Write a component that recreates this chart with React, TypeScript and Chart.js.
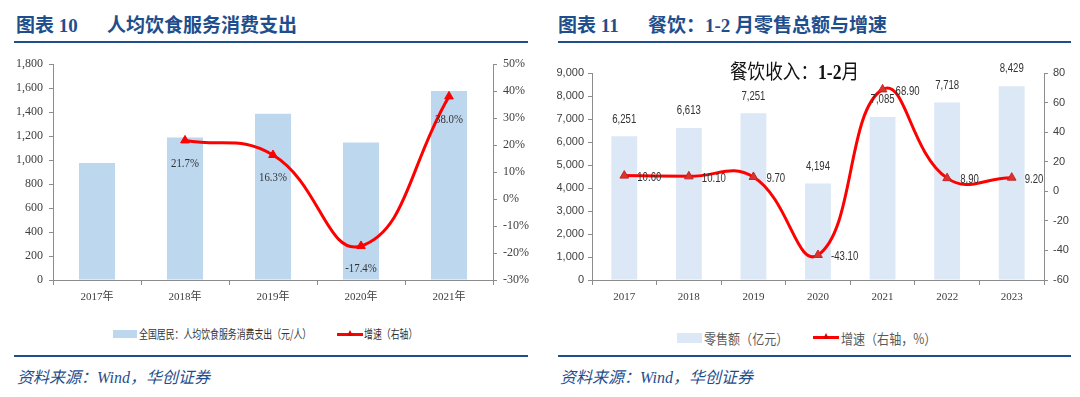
import React, { useEffect, useRef } from "react";
import { Chart, registerables } from "chart.js";

Chart.register(...registerables);

// ---------- data ----------
const leftCategories = ["2017年", "2018年", "2019年", "2020年", "2021年"];
const leftSpending = [975, 1188, 1385, 1145, 1576];
const leftGrowth: (number | null)[] = [null, 21.7, 16.3, -17.4, 38.0];

const rightCategories = ["2017", "2018", "2019", "2020", "2021", "2022", "2023"];
const rightSales = [6251, 6613, 7251, 4194, 7085, 7718, 8429];
const rightGrowth = [10.6, 10.1, 9.7, -43.1, 68.9, 8.9, 9.2];

const leftBarLabel = "全国居民：人均饮食服务消费支出（元/人）";
const leftLineLabel = "增速（右轴）";
const rightBarLabel = "零售额（亿元）";
const rightLineLabel = "增速（右轴，%）";

// ---------- styles ----------
const BLUE = "#1f4e8c";
const AXIS = "#8c8c8c";
const TICK_TEXT = "#404040";
const SERIF = '"Liberation Serif", "Noto Sans CJK SC", serif';
const NARROW = '"Liberation Sans Narrow", "Liberation Sans", sans-serif';
const CJK = '"Noto Sans CJK SC", "Liberation Sans", sans-serif';

type LabelSpec = {
  dataset: number;
  font: string;
  color: string;
  format: (v: number) => string;
  dx: number;
  dy: number;
  align: CanvasTextAlign;
  sx: number;
};

function makeLabelPlugin(specs: LabelSpec[]) {
  return {
    id: "valueLabels",
    afterDatasetsDraw(chart: any) {
      const ctx = chart.ctx as CanvasRenderingContext2D;
      for (const s of specs) {
        const meta = chart.getDatasetMeta(s.dataset);
        const data = chart.data.datasets[s.dataset].data;
        meta.data.forEach((el: any, j: number) => {
          const v = data[j];
          if (v == null) return;
          ctx.save();
          ctx.font = s.font;
          ctx.fillStyle = s.color;
          ctx.textAlign = s.align;
          ctx.textBaseline = "middle";
          ctx.translate(el.x + s.dx, el.y + s.dy);
          ctx.scale(s.sx, 1);
          ctx.fillText(s.format(v), 0, 0);
          ctx.restore();
        });
      }
    },
  };
}

function axisGrid(tickLength: number) {
  return {
    display: true,
    drawOnChartArea: false,
    drawTicks: true,
    tickLength,
    color: AXIS,
    lineWidth: 1,
  };
}

function LeftChart() {
  const ref = useRef<HTMLCanvasElement | null>(null);
  useEffect(() => {
    if (!ref.current) return;
    const chart = new Chart(ref.current, {
      type: "bar",
      data: {
        labels: leftCategories,
        datasets: [
          {
            type: "line",
            label: leftLineLabel,
            data: leftGrowth,
            yAxisID: "y1",
            borderColor: "#ff0000",
            backgroundColor: "#ff0000",
            borderWidth: 3,
            tension: 0.45,
            pointStyle: "triangle",
            pointRadius: 5,
            pointBorderWidth: 1,
            order: 0,
          } as any,
          {
            type: "bar",
            label: leftBarLabel,
            data: leftSpending,
            yAxisID: "y",
            backgroundColor: "#bdd7ee",
            barPercentage: 0.41,
            categoryPercentage: 1,
            order: 1,
          } as any,
        ],
      },
      options: {
        responsive: false,
        animation: false,
        layout: { padding: { top: 14, left: 0, right: 0, bottom: 0 } },
        plugins: { legend: { display: false }, tooltip: { enabled: false } },
        scales: {
          x: {
            grid: { ...axisGrid(5), offset: true },
            border: { display: true, color: AXIS },
            ticks: {
              color: TICK_TEXT,
              font: { family: SERIF, size: 11 },
              padding: 6,
              maxRotation: 0,
            },
            afterFit: (s: any) => {
              s.height = 30;
            },
          },
          y: {
            position: "left",
            min: 0,
            max: 1800,
            grid: axisGrid(4),
            border: { display: true, color: AXIS },
            ticks: {
              stepSize: 200,
              color: TICK_TEXT,
              font: { family: SERIF, size: 12 },
              padding: 6,
              callback: (v: any) => Number(v).toLocaleString("en-US"),
            },
            afterFit: (s: any) => {
              s.width = 53;
            },
          },
          y1: {
            position: "right",
            min: -30,
            max: 50,
            grid: axisGrid(4),
            border: { display: true, color: AXIS },
            ticks: {
              stepSize: 10,
              color: TICK_TEXT,
              font: { family: SERIF, size: 12 },
              padding: 6,
              callback: (v: any) => `${v}%`,
            },
            afterFit: (s: any) => {
              s.width = 47;
            },
          },
        },
      } as any,
      plugins: [
        makeLabelPlugin([
          {
            dataset: 0,
            font: `12px ${SERIF}`,
            color: "#333333",
            format: (v) => `${v.toFixed(1)}%`,
            dx: 0,
            dy: 23,
            align: "center",
            sx: 0.9,
          },
        ]),
      ],
    });
    return () => chart.destroy();
  }, []);
  return <canvas ref={ref} width={540} height={260} style={{ width: 540, height: 260, display: "block" }} />;
}

function RightChart() {
  const ref = useRef<HTMLCanvasElement | null>(null);
  useEffect(() => {
    if (!ref.current) return;
    const chart = new Chart(ref.current, {
      type: "bar",
      data: {
        labels: rightCategories,
        datasets: [
          {
            type: "line",
            label: rightLineLabel,
            data: rightGrowth,
            yAxisID: "y1",
            borderColor: "#ff0000",
            backgroundColor: "#e0302a",
            pointBorderColor: "#c0282a",
            borderWidth: 3,
            tension: 0.45,
            pointStyle: "triangle",
            pointRadius: 5,
            pointBorderWidth: 1,
            order: 0,
          } as any,
          {
            type: "bar",
            label: rightBarLabel,
            data: rightSales,
            yAxisID: "y",
            backgroundColor: "#dce8f5",
            barPercentage: 0.4,
            categoryPercentage: 1,
            order: 1,
          } as any,
        ],
      },
      options: {
        responsive: false,
        animation: false,
        layout: { padding: { top: 23, left: 0, right: 0, bottom: 0 } },
        plugins: { legend: { display: false }, tooltip: { enabled: false } },
        scales: {
          x: {
            grid: { ...axisGrid(5), offset: true },
            border: { display: true, color: AXIS },
            ticks: {
              color: TICK_TEXT,
              font: { family: SERIF, size: 11 },
              padding: 6,
              maxRotation: 0,
            },
            afterFit: (s: any) => {
              s.height = 30;
            },
          },
          y: {
            position: "left",
            min: 0,
            max: 9000,
            grid: axisGrid(4),
            border: { display: true, color: AXIS },
            ticks: {
              stepSize: 1000,
              color: TICK_TEXT,
              font: { family: NARROW, size: 11 },
              padding: 4,
              callback: (v: any) => Number(v).toLocaleString("en-US"),
            },
            afterFit: (s: any) => {
              s.width = 52;
            },
          },
          y1: {
            position: "right",
            min: -60,
            max: 80,
            grid: axisGrid(4),
            border: { display: true, color: AXIS },
            ticks: {
              stepSize: 20,
              color: TICK_TEXT,
              font: { family: NARROW, size: 11 },
              padding: 5,
              callback: (v: any) => `${v}`,
            },
            afterFit: (s: any) => {
              s.width = 36;
            },
          },
        },
      } as any,
      plugins: [
        makeLabelPlugin([
          {
            dataset: 1,
            font: `12px ${NARROW}`,
            color: "#333333",
            format: (v) => v.toLocaleString("en-US"),
            dx: 0,
            dy: -17,
            align: "center",
            sx: 0.8,
          },
          {
            dataset: 0,
            font: `12px ${NARROW}`,
            color: "#333333",
            format: (v) => v.toFixed(2),
            dx: 13,
            dy: 2,
            align: "left",
            sx: 0.8,
          },
        ]),
      ],
    });
    return () => chart.destroy();
  }, []);
  return <canvas ref={ref} width={540} height={260} style={{ width: 540, height: 260, display: "block" }} />;
}

function abs(left: number, top: number, extra: React.CSSProperties = {}): React.CSSProperties {
  return { position: "absolute", left, top, whiteSpace: "nowrap", ...extra };
}

function LineMarker({ left, top }: { left: number; top: number }) {
  return (
    <div style={abs(left, top, { width: 26, height: 10 })}>
      <div style={{ position: "absolute", left: 0, top: 4, width: 26, height: 3, background: "#ff0000" }} />
      <div
        style={{
          position: "absolute",
          left: 10,
          top: 1,
          width: 0,
          height: 0,
          borderLeft: "3px solid transparent",
          borderRight: "3px solid transparent",
          borderBottom: "6px solid #e00000",
        }}
      />
    </div>
  );
}

export default function App() {
  const titleStyle: React.CSSProperties = {
    fontFamily: SERIF,
    fontWeight: 700,
    fontSize: 19,
    lineHeight: "20px",
    color: BLUE,
  };
  const sourceStyle: React.CSSProperties = {
    fontFamily: SERIF,
    fontStyle: "italic",
    fontSize: 16,
    lineHeight: "18px",
    color: BLUE,
  };
  const squish = (sx: number): React.CSSProperties => ({
    transform: `scaleX(${sx})`,
    transformOrigin: "left center",
  });
  return (
    <div
      style={{
        position: "absolute",
        left: 0,
        top: 0,
        width: 1080,
        height: 397,
        background: "#ffffff",
        overflow: "hidden",
      }}
    >
      {/* titles */}
      <div style={abs(16, 16, titleStyle)}>图表 10</div>
      <div style={abs(107, 16, titleStyle)}>人均饮食服务消费支出</div>
      <div style={abs(558, 16, titleStyle)}>图表 11</div>
      <div style={abs(648, 16, titleStyle)}>餐饮：1-2 月零售总额与增速</div>

      {/* rules */}
      <div style={abs(14, 41, { width: 514, height: 2, background: BLUE })} />
      <div style={abs(558, 41, { width: 513, height: 2, background: BLUE })} />
      <div style={abs(14, 355, { width: 514, height: 2, background: BLUE })} />
      <div style={abs(558, 355, { width: 513, height: 2, background: BLUE })} />

      {/* charts */}
      <div style={abs(0, 50, { width: 540, height: 260 })}>
        <LeftChart />
      </div>
      <div style={abs(540, 50, { width: 540, height: 260 })}>
        <RightChart />
      </div>

      {/* in-chart note */}
      <div
        style={abs(730, 60, {
          fontFamily: SERIF,
          fontSize: 20,
          lineHeight: "24px",
          color: "#111",
          ...squish(0.88),
        })}
      >
        餐饮收入：<b>1-2</b>月
      </div>

      {/* left legend */}
      <div style={abs(113, 330, { width: 24, height: 8, background: "#bdd7ee" })} />
      <div
        style={abs(139, 326, {
          fontFamily: CJK,
          fontSize: 12,
          lineHeight: "15px",
          color: "#333",
          ...squish(0.74),
        })}
      >
        {leftBarLabel}
      </div>
      <LineMarker left={337} top={329} />
      <div
        style={abs(364, 326, {
          fontFamily: CJK,
          fontSize: 12,
          lineHeight: "15px",
          color: "#333",
          ...squish(0.74),
        })}
      >
        {leftLineLabel}
      </div>

      {/* right legend */}
      <div style={abs(677, 333, { width: 25, height: 10, background: "#dce8f5" })} />
      <div
        style={abs(704, 329, {
          fontFamily: CJK,
          fontSize: 14,
          lineHeight: "18px",
          color: "#595959",
          ...squish(0.86),
        })}
      >
        {rightBarLabel}
      </div>
      <LineMarker left={813} top={332} />
      <div
        style={abs(841, 329, {
          fontFamily: CJK,
          fontSize: 14,
          lineHeight: "18px",
          color: "#595959",
          ...squish(0.86),
        })}
      >
        {rightLineLabel}
      </div>

      {/* sources */}
      <div style={abs(17, 369, sourceStyle)}>资料来源：Wind，华创证券</div>
      <div style={abs(560, 369, sourceStyle)}>资料来源：Wind，华创证券</div>
    </div>
  );
}
